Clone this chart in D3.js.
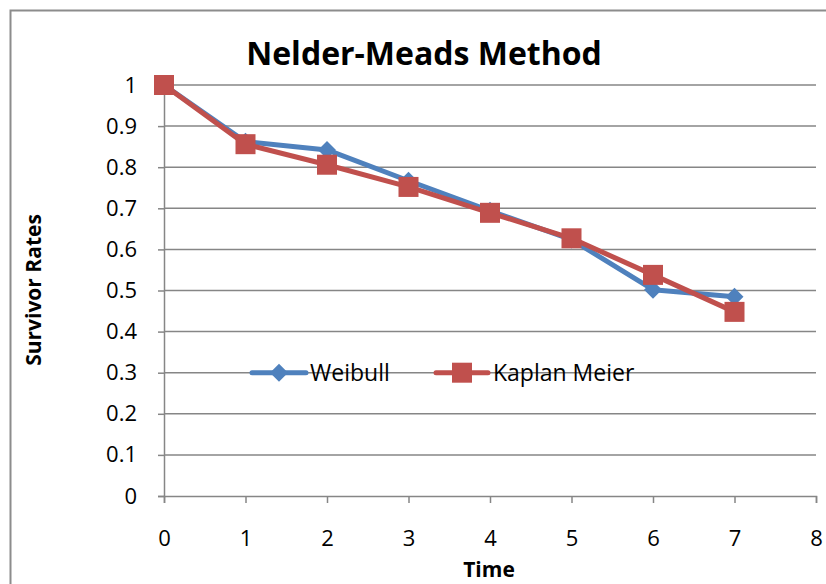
<!DOCTYPE html>
<html><head><meta charset="utf-8">
<script src="https://cdn.jsdelivr.net/npm/d3@7"></script>
<style>body{margin:0;background:#fff}svg{display:block}text{font-family:"Open Sans",sans-serif}</style>
</head><body>
<script>
const times = [0,1,2,3,4,5,6,7];
const weibull = [1.0,0.862,0.842,0.767,0.694,0.624,0.502,0.485];
const kaplanMeier = [1.0,0.856,0.806,0.752,0.689,0.627,0.538,0.448];
const xTicks = [0,1,2,3,4,5,6,7,8];
const yTicks = [0,0.1,0.2,0.3,0.4,0.5,0.6,0.7,0.8,0.9,1];
const seriesNames = ["Weibull","Kaplan Meier"];

const W=826,H=584;
const svg=d3.select("body").append("svg").attr("width",W).attr("height",H);
// outer border
svg.append("rect").attr("x",10.5).attr("y",10.5).attr("width",W+10).attr("height",H+10)
  .attr("fill","none").attr("stroke","#8c8c8c").attr("stroke-width",2);

const x=d3.scaleLinear().domain([0,8]).range([164,816]);
const y=d3.scaleLinear().domain([0,1]).range([496,85]);
const grey="#868686";

// gridlines
svg.append("g").selectAll("line").data(yTicks.filter(d=>d>0)).join("line")
  .attr("x1",x(0)).attr("x2",x(8)).attr("y1",d=>y(d)).attr("y2",d=>y(d))
  .attr("stroke",grey).attr("stroke-width",1.5);

// axes
const yAxis=svg.append("g").attr("transform",`translate(${x(0)},0)`)
  .call(d3.axisLeft(y).tickValues(yTicks).tickFormat(d=>d3.format("")(d)).tickSize(6).tickPadding(21));
const xAxis=svg.append("g").attr("transform",`translate(0,${y(0)})`)
  .call(d3.axisBottom(x).tickValues(xTicks).tickSize(7).tickPadding(27));
[yAxis,xAxis].forEach(a=>{
  a.select(".domain").attr("stroke",grey).attr("stroke-width",1.5);
  a.selectAll(".tick line").attr("stroke",grey).attr("stroke-width",1.5);
  a.selectAll(".tick text").attr("fill","#000").style("font-size","22px").style("font-family","'Open Sans',sans-serif");
});
xAxis.selectAll(".tick text").attr("dy","0.71em");

const line=d3.line().x((d,i)=>x(times[i])).y(d=>y(d));
const blue="#4F81BD", red="#C0504D";

// Weibull
svg.append("path").datum(weibull).attr("d",line).attr("fill","none").attr("stroke",blue).attr("stroke-width",5).attr("stroke-linejoin","round");
const diamond=(cx,cy,r)=>`M${cx},${cy-r}L${cx+r},${cy}L${cx},${cy+r}L${cx-r},${cy}Z`;
svg.append("g").selectAll("path").data(weibull).join("path")
  .attr("d",(d,i)=>diamond(x(times[i]),y(d),9)).attr("fill",blue);

// Kaplan Meier
svg.append("path").datum(kaplanMeier).attr("d",line).attr("fill","none").attr("stroke",red).attr("stroke-width",5).attr("stroke-linejoin","round");
svg.append("g").selectAll("rect").data(kaplanMeier).join("rect")
  .attr("x",(d,i)=>x(times[i])-10).attr("y",d=>y(d)-10).attr("width",20).attr("height",20).attr("fill",red);

// legend
const ly=y(0.3);
const lg=svg.append("g");
lg.append("line").attr("x1",252).attr("x2",306).attr("y1",ly).attr("y2",ly).attr("stroke",blue).attr("stroke-width",5).attr("stroke-linecap","round");
lg.append("path").attr("d",diamond(279,ly,9)).attr("fill",blue);
lg.append("text").attr("x",310).attr("y",ly).attr("dy","0.35em").style("font-size","23px").text(seriesNames[0]);
lg.append("line").attr("x1",436).attr("x2",488).attr("y1",ly).attr("y2",ly).attr("stroke",red).attr("stroke-width",5).attr("stroke-linecap","round");
lg.append("rect").attr("x",452).attr("y",ly-10).attr("width",20).attr("height",20).attr("fill",red);
lg.append("text").attr("x",493).attr("y",ly).attr("dy","0.35em").style("font-size","23px").text(seriesNames[1]);

// titles
svg.append("text").attr("x",424).attr("y",65).attr("text-anchor","middle")
  .style("font-size","32px").style("font-weight","bold").text("Nelder-Meads Method");
svg.append("text").attr("x",489).attr("y",577).attr("text-anchor","middle")
  .style("font-size","21px").style("font-weight","bold").text("Time");
svg.append("text").attr("transform","translate(41,290) rotate(-90)").attr("text-anchor","middle")
  .style("font-size","21px").style("font-weight","bold").text("Survivor Rates");
</script>
</body></html>
